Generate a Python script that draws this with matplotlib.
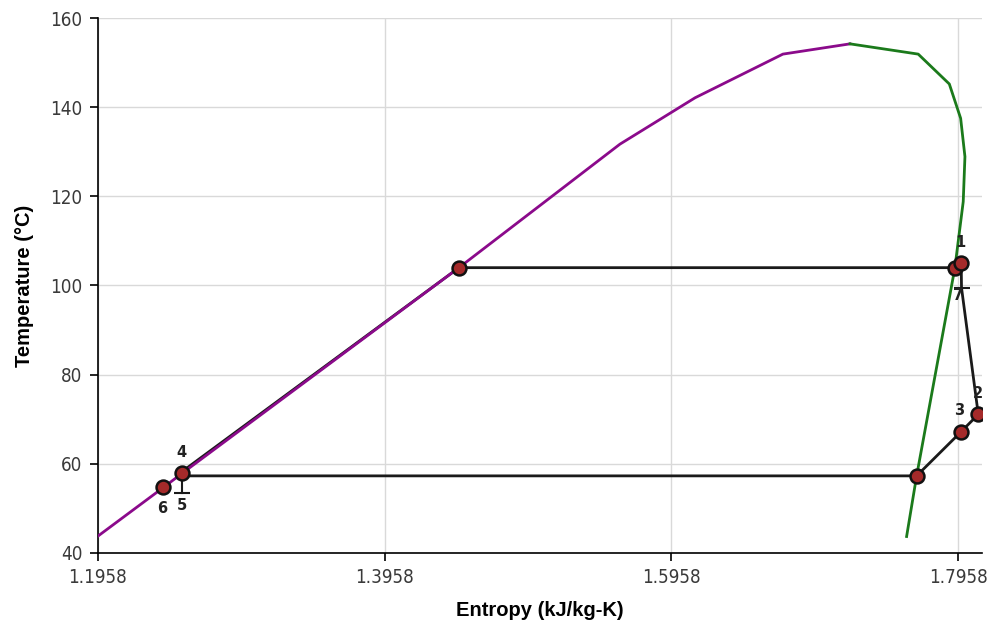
import matplotlib
matplotlib.use("Agg")
import matplotlib.pyplot as plt
from matplotlib import font_manager

# ---- data ----
liq_s = [1.1958, 1.2414, 1.2546, 1.4476, 1.5599, 1.6123, 1.6736, 1.7204]
liq_T = [43.8, 54.7, 57.9, 104.0, 131.7, 142.1, 151.9, 154.2]

vap_s = [1.7204, 1.7680, 1.7897, 1.7976, 1.8006, 1.7994, 1.7936, 1.7669, 1.7599]
vap_T = [154.2, 151.9, 145.2, 137.5, 128.9, 118.8, 104.0, 57.3, 43.7]

# state points
pt_labels = ["1", "2", "3", "4", "5", "6", "7"]
pt_s = [1.7980, 1.8099, 1.7976, 1.2546, 1.2546, 1.2414, 1.7982]
pt_T = [105.0, 71.1, 67.1, 57.9, 53.5, 54.7, 99.5]

# additional marked points (saturation states)
sat_s = [1.4476, 1.7936, 1.7669]
sat_T = [104.0, 104.0, 57.3]

# cycle path segments
cyc1_s = [1.7980, 1.7982, 1.8099, 1.7976, 1.7669, 1.2546]
cyc1_T = [105.0, 99.5, 71.1, 67.1, 57.3, 57.3]
cyc2_s = [1.2546, 1.2546]
cyc2_T = [53.5, 57.9]
cyc3_s = [1.2546, 1.4476, 1.7936, 1.7980]
cyc3_T = [58.3, 104.0, 104.0, 105.0]

xticks = [1.1958, 1.3958, 1.5958, 1.7958]
yticks = [40, 60, 80, 100, 120, 140, 160]

# ---- fonts ----
fonts = font_manager.fontManager.ttflist
names = {f.name for f in fonts}
if "Liberation Sans Narrow" in names:
    tick_kw = dict(family=["Liberation Sans Narrow", "DejaVu Sans"])
else:
    tick_kw = dict(family=["DejaVu Sans"], stretch="condensed")

W, H = 989, 625
fig = plt.figure(figsize=(W / 100, H / 100), dpi=100)
ax = fig.add_axes([98 / W, (H - 553) / H, (982 - 98) / W, (553 - 18) / H])

ax.set_xlim(1.1958, 1.8125)
ax.set_ylim(40, 160)
ax.set_xticks(xticks)
ax.set_xticklabels(["%.4f" % v for v in xticks])
ax.set_yticks(yticks)
ax.grid(True, color="#d9d9d9", linewidth=1.0)
ax.set_axisbelow(True)
for sp in ["top", "right"]:
    ax.spines[sp].set_visible(False)
for sp in ["left", "bottom"]:
    ax.spines[sp].set_linewidth(1.2)
ax.tick_params(direction="out", length=6, width=1.2, color="black",
               labelsize=13.5, labelcolor="#3a3a3a", pad=5)
for lab in ax.get_xticklabels() + ax.get_yticklabels():
    lab.set_fontfamily(tick_kw["family"])
    if "stretch" in tick_kw:
        lab.set_fontstretch(tick_kw["stretch"])

ax.set_xlabel("Entropy (kJ/kg-K)", fontsize=14.5, fontweight="bold",
              family=["Liberation Sans", "DejaVu Sans"], labelpad=10)
ax.set_ylabel("Temperature (°C)", fontsize=14.5, fontweight="bold",
              family=["Liberation Sans", "DejaVu Sans"], labelpad=12)

# cycle lines
lc = "#1a1a1a"
ax.plot(cyc3_s, cyc3_T, color=lc, lw=2.0, zorder=3)
ax.plot(liq_s, liq_T, color="#8b0a8b", lw=2.0, zorder=4)
ax.plot(vap_s, vap_T, color="#1b7a1b", lw=2.0, zorder=4)
ax.plot(cyc1_s, cyc1_T, color=lc, lw=2.0, zorder=5)
ax.plot(cyc2_s, cyc2_T, color=lc, lw=1.5, zorder=5)

mk = dict(marker="o", markersize=10, markerfacecolor="#a52a2a",
          markeredgecolor="#111111", markeredgewidth=1.8, linestyle="none", zorder=6)
ax.plot(sat_s, sat_T, **mk)
for lbl, s, T in zip(pt_labels, pt_s, pt_T):
    if lbl in ("5", "7"):
        ax.plot([s], [T], marker="_", markersize=11, markeredgewidth=1.5,
                color=lc, linestyle="none", zorder=6)
    else:
        ax.plot([s], [T], **mk)

offsets = {"1": (-1, 21), "2": (0, 21), "3": (-2, 22), "4": (-1, 21),
           "5": (0, -13), "6": (-1, -21), "7": (-3, -8)}
for lbl, s, T in zip(pt_labels, pt_s, pt_T):
    dx, dy = offsets[lbl]
    ax.annotate(lbl, (s, T), xytext=(dx, dy), textcoords="offset pixels",
                ha="center", va="center", fontsize=10.5, fontweight="bold",
                color="#222222", zorder=7)

fig.savefig("out.png", dpi=100)
